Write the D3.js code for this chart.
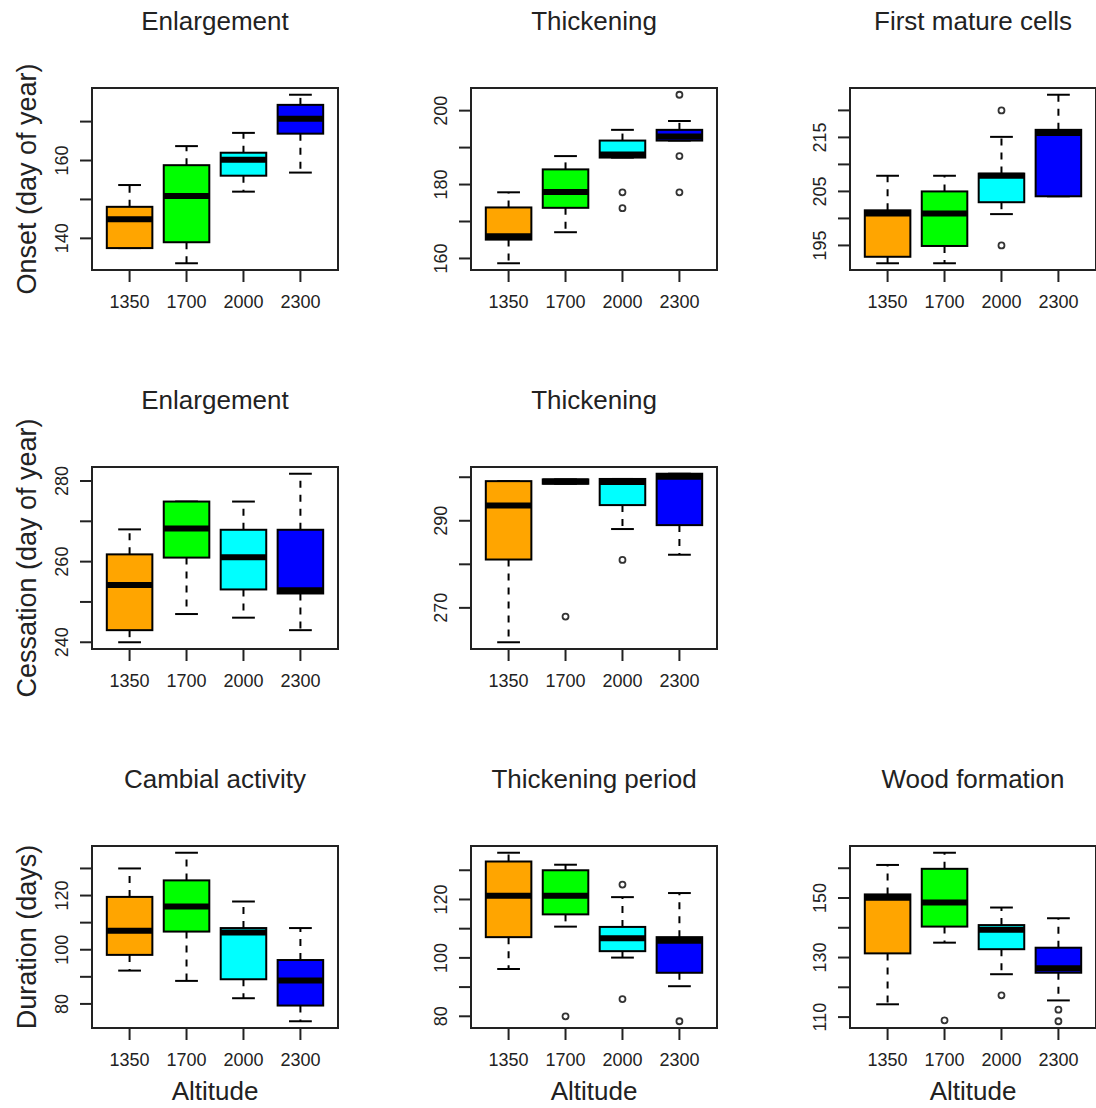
<!DOCTYPE html>
<html>
<head>
<meta charset="utf-8">
<script src="https://cdn.jsdelivr.net/npm/d3@7"></script>
<style>
  body { margin: 0; background: #fff; }
  text { font-family: "Liberation Sans", Arial, sans-serif; fill: #222; }
</style>
</head>
<body>
<div id="chart"></div>
<script>
// Categories and colours
var altitudes = ["1350", "1700", "2000", "2300"];
var boxColors = ["#ffa500", "#00ff00", "#00ffff", "#0000ff"];

// Box stats per altitude: [low whisker, Q1, median, Q3, high whisker]
var onsetEnlargement = [[137.5, 137.5, 144.9, 148.1, 153.7], [133.6, 139, 150.9, 158.8, 163.7], [152, 156.1, 160.2, 162, 167.1], [156.9, 166.9, 170.7, 174.3, 176.9]];
var onsetEnlargementOut = [[], [], [], []];
var onsetEnlargementTicks = [140, 150, 160, 170];
var onsetEnlargementLabels = [140, 160];

var onsetThickening = [[158.7, 165.1, 166, 173.8, 177.9], [167.1, 173.7, 178, 184.1, 187.7], [187.3, 187.3, 188.1, 191.9, 194.8], [191.9, 191.9, 193, 194.8, 197.2]];
var onsetThickeningOut = [[], [], [177.9, 173.6], [204.3, 187.7, 177.9]];
var onsetThickeningTicks = [160, 170, 180, 190, 200];
var onsetThickeningLabels = [160, 180, 200];

var matureCells = [[191.7, 192.9, 200.9, 201.5, 207.9], [191.7, 194.9, 200.9, 205, 207.9], [200.8, 203, 207.9, 208.3, 215.1], [204.1, 204.1, 215.8, 216.4, 222.9]];
var matureCellsOut = [[], [], [220, 195], []];
var matureCellsTicks = [195, 200, 205, 210, 215, 220];
var matureCellsLabels = [195, 205, 215];

var cessEnlargement = [[240, 243, 254.2, 261.8, 268], [247, 261, 268.2, 274.9, 274.9], [246.1, 253.1, 261.1, 267.9, 274.9], [243, 252.1, 252.9, 267.9, 281.8]];
var cessEnlargementOut = [[], [], [], []];
var cessEnlargementTicks = [240, 250, 260, 270, 280];
var cessEnlargementLabels = [240, 260, 280];

var cessThickening = [[262.1, 281.1, 293.5, 299.1, 299.1], [298.5, 298.5, 299, 299.5, 299.5], [288.1, 293.6, 298.9, 299.6, 299.6], [282.2, 289, 300.1, 300.8, 300.8]];
var cessThickeningOut = [[], [268], [281], []];
var cessThickeningTicks = [270, 280, 290, 300];
var cessThickeningLabels = [270, 290];

var cambialDuration = [[92.3, 98.1, 107, 119.5, 130], [88.5, 106.7, 116, 125.6, 135.8], [82.1, 89.1, 106.4, 108, 117.8], [73.6, 79.4, 88.6, 96.2, 108]];
var cambialDurationOut = [[], [], [], []];
var cambialDurationTicks = [80, 90, 100, 110, 120, 130];
var cambialDurationLabels = [80, 100, 120];

var thickeningPeriod = [[96.2, 107.1, 121.3, 133, 136], [110.7, 114.9, 121.3, 130, 131.9], [100.1, 102.3, 106.7, 110.6, 120.8], [90.3, 94.9, 105.9, 107.1, 122.2]];
var thickeningPeriodOut = [[], [80], [125.1, 85.9], [78.3]];
var thickeningPeriodTicks = [80, 90, 100, 110, 120, 130];
var thickeningPeriodLabels = [80, 100, 120];

var woodFormation = [[114.3, 131.4, 150.1, 151.2, 161.1], [135, 140.4, 148.5, 159.8, 165.2], [124.4, 132.8, 139.3, 140.9, 146.8], [115.6, 124.9, 126.4, 133.3, 143.2]];
var woodFormationOut = [[], [108.9], [117.3], [112.5, 108.6]];
var woodFormationTicks = [110, 120, 130, 140, 150, 160];
var woodFormationLabels = [110, 130, 150];

var rowTitles = ["Onset (day of year)", "Cessation (day of year)", "Duration (days)"];

// Panel table built from the arrays above
var panels = [
  {row: 0, col: 0, title: "Enlargement", stats: onsetEnlargement, out: onsetEnlargementOut, ticks: onsetEnlargementTicks, labels: onsetEnlargementLabels},
  {row: 0, col: 1, title: "Thickening", stats: onsetThickening, out: onsetThickeningOut, ticks: onsetThickeningTicks, labels: onsetThickeningLabels},
  {row: 0, col: 2, title: "First mature cells", stats: matureCells, out: matureCellsOut, ticks: matureCellsTicks, labels: matureCellsLabels},
  {row: 1, col: 0, title: "Enlargement", stats: cessEnlargement, out: cessEnlargementOut, ticks: cessEnlargementTicks, labels: cessEnlargementLabels},
  {row: 1, col: 1, title: "Thickening", stats: cessThickening, out: cessThickeningOut, ticks: cessThickeningTicks, labels: cessThickeningLabels},
  {row: 2, col: 0, title: "Cambial activity", stats: cambialDuration, out: cambialDurationOut, ticks: cambialDurationTicks, labels: cambialDurationLabels},
  {row: 2, col: 1, title: "Thickening period", stats: thickeningPeriod, out: thickeningPeriodOut, ticks: thickeningPeriodTicks, labels: thickeningPeriodLabels},
  {row: 2, col: 2, title: "Wood formation", stats: woodFormation, out: woodFormationOut, ticks: woodFormationTicks, labels: woodFormationLabels}
];

// Page and plot-region layout
var svgWidth = 1096;
var svgHeight = 1108;
var colLeft = [92, 471, 850];
var rowTop = [88, 467, 846];
var plotWidth = 246;
var plotHeight = 182;

var svg = d3.select("#chart")
  .append("svg")
  .attr("width", svgWidth)
  .attr("height", svgHeight);

panels.forEach(function(p) {
  var g = svg.append("g")
    .attr("transform", `translate(${colLeft[p.col]}, ${rowTop[p.row]})`);

  // y range like R: data extent stretched by 4%
  var values = [];
  p.stats.forEach(function(s, i) { values = values.concat(s, p.out[i]); });
  var lo = d3.min(values), hi = d3.max(values);
  var pad = (hi - lo) * 0.04;

  var yScale = d3.scaleLinear()
    .domain([lo - pad, hi + pad])
    .range([plotHeight, 0]);

  // x positions 1..4 on a range of 0.5..4.5 stretched by 4%
  var xScale = d3.scaleLinear()
    .domain([0.34, 4.66])
    .range([0, plotWidth]);

  var boxW = xScale(1.4) - xScale(1);

  // boxes
  p.stats.forEach(function(s, i) {
    var cx = xScale(i + 1);

    // dashed whiskers
    g.append("line")
      .attr("x1", cx).attr("x2", cx)
      .attr("y1", yScale(s[3])).attr("y2", yScale(s[4]))
      .attr("stroke", "#000").attr("stroke-width", 2)
      .attr("stroke-dasharray", "7,7");
    g.append("line")
      .attr("x1", cx).attr("x2", cx)
      .attr("y1", yScale(s[1])).attr("y2", yScale(s[0]))
      .attr("stroke", "#000").attr("stroke-width", 2)
      .attr("stroke-dasharray", "7,7");

    // staples
    [s[0], s[4]].forEach(function(v) {
      g.append("line")
        .attr("x1", cx - boxW / 2).attr("x2", cx + boxW / 2)
        .attr("y1", yScale(v)).attr("y2", yScale(v))
        .attr("stroke", "#000").attr("stroke-width", 2);
    });

    g.append("rect")
      .attr("x", cx - boxW)
      .attr("y", yScale(s[3]))
      .attr("width", boxW * 2)
      .attr("height", yScale(s[1]) - yScale(s[3]))
      .attr("fill", boxColors[i])
      .attr("stroke", "#000")
      .attr("stroke-width", 2);

    g.append("line")
      .attr("x1", cx - boxW).attr("x2", cx + boxW)
      .attr("y1", yScale(s[2])).attr("y2", yScale(s[2]))
      .attr("stroke", "#000").attr("stroke-width", 6);

    // outliers
    g.selectAll(null)
      .data(p.out[i])
      .enter()
      .append("circle")
      .attr("cx", cx)
      .attr("cy", d => yScale(d))
      .attr("r", 3)
      .attr("fill", "none")
      .attr("stroke", "#333")
      .attr("stroke-width", 1.8);
  });

  // frame
  g.append("rect")
    .attr("width", plotWidth)
    .attr("height", plotHeight)
    .attr("fill", "none")
    .attr("stroke", "#222")
    .attr("stroke-width", 2);

  // y ticks and rotated labels
  g.selectAll(".ytick")
    .data(p.ticks)
    .enter()
    .append("line")
    .attr("x1", -12).attr("x2", 0)
    .attr("y1", d => yScale(d)).attr("y2", d => yScale(d))
    .attr("stroke", "#222").attr("stroke-width", 2);

  g.selectAll(".ylab")
    .data(p.labels)
    .enter()
    .append("text")
    .attr("transform", d => `translate(-24, ${yScale(d)}) rotate(-90)`)
    .attr("text-anchor", "middle")
    .style("font-size", "18px")
    .text(d => d);

  // x ticks and labels
  altitudes.forEach(function(a, i) {
    var cx = xScale(i + 1);
    g.append("line")
      .attr("x1", cx).attr("x2", cx)
      .attr("y1", plotHeight).attr("y2", plotHeight + 12)
      .attr("stroke", "#222").attr("stroke-width", 2);
    g.append("text")
      .attr("x", cx)
      .attr("y", plotHeight + 38)
      .attr("text-anchor", "middle")
      .style("font-size", "18px")
      .text(a);
  });

  // panel title
  g.append("text")
    .attr("x", plotWidth / 2)
    .attr("y", -58)
    .attr("text-anchor", "middle")
    .style("font-size", "26px")
    .text(p.title);

  // row title on left column
  if (p.col === 0) {
    g.append("text")
      .attr("transform", `translate(-56, ${plotHeight / 2}) rotate(-90)`)
      .attr("text-anchor", "middle")
      .style("font-size", "27px")
      .text(rowTitles[p.row]);
  }

  // x axis title on bottom row
  if (p.row === 2) {
    g.append("text")
      .attr("x", plotWidth / 2)
      .attr("y", plotHeight + 72)
      .attr("text-anchor", "middle")
      .style("font-size", "26px")
      .text("Altitude");
  }
});
</script>
</body>
</html>
